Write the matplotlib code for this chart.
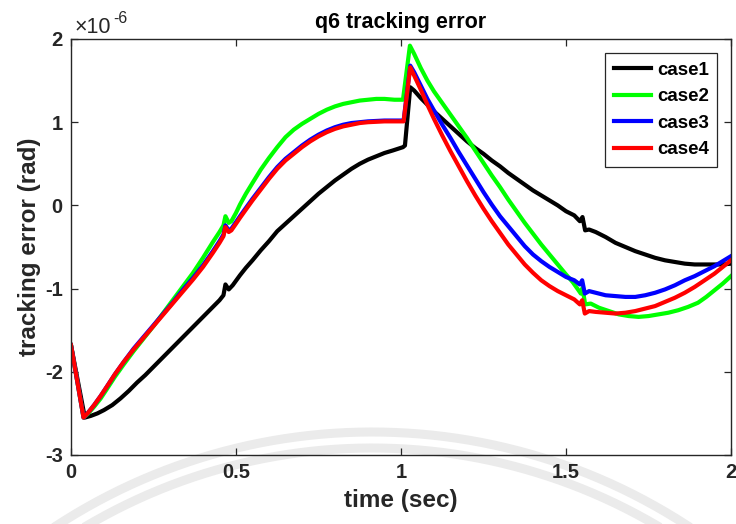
import numpy as np
import matplotlib
matplotlib.use("Agg")
import matplotlib.pyplot as plt
from matplotlib.lines import Line2D

# ---------------- data (values in units of 1e-6 rad) ----------------
t1 = [0, 0.042, 0.06, 0.08, 0.10, 0.125, 0.15, 0.175, 0.20, 0.225, 0.25, 0.275, 0.30, 0.325, 0.35,
      0.375, 0.40, 0.425, 0.45, 0.462, 0.468, 0.478, 0.49, 0.512, 0.53, 0.55, 0.575, 0.60, 0.625, 0.65,
      0.675, 0.70, 0.725, 0.75, 0.775, 0.80, 0.825, 0.85, 0.875, 0.90, 0.925, 0.95, 0.975, 1.006, 1.012,
      1.028, 1.04, 1.06, 1.08, 1.10, 1.125, 1.15, 1.175, 1.20, 1.225, 1.25, 1.275, 1.30, 1.325, 1.35,
      1.375, 1.40, 1.425, 1.45, 1.475, 1.50, 1.525, 1.542, 1.55, 1.558, 1.57, 1.59, 1.62, 1.65, 1.68,
      1.71, 1.74, 1.77, 1.80, 1.83, 1.86, 1.89, 1.92, 1.95, 1.975, 2.0]
case1 = [-1.68, -2.55, -2.53, -2.50, -2.46, -2.40, -2.32, -2.23, -2.13, -2.04, -1.94, -1.84, -1.74, -1.64, -1.54,
         -1.44, -1.34, -1.24, -1.14, -1.08, -0.95, -1.01, -0.96, -0.84, -0.75, -0.66, -0.54, -0.43, -0.31, -0.22,
         -0.13, -0.04, 0.05, 0.14, 0.22, 0.30, 0.37, 0.44, 0.50, 0.55, 0.59, 0.63, 0.66, 0.70, 0.72,
         1.42, 1.38, 1.29, 1.21, 1.13, 1.04, 0.95, 0.86, 0.77, 0.69, 0.62, 0.54, 0.47, 0.39, 0.32,
         0.25, 0.18, 0.12, 0.06, 0.00, -0.07, -0.12, -0.19, -0.14, -0.30, -0.29, -0.32, -0.38, -0.45, -0.50,
         -0.55, -0.59, -0.63, -0.66, -0.68, -0.70, -0.71, -0.71, -0.71, -0.71, -0.70]

t2 = [0, 0.038, 0.05, 0.07, 0.09, 0.11, 0.133, 0.16, 0.19, 0.22, 0.25, 0.28, 0.31, 0.34, 0.37,
      0.40, 0.43, 0.45, 0.462, 0.468, 0.478, 0.486, 0.50, 0.512, 0.53, 0.55, 0.575, 0.60, 0.625, 0.65,
      0.675, 0.70, 0.725, 0.75, 0.775, 0.80, 0.825, 0.85, 0.875, 0.90, 0.925, 0.95, 0.98, 1.006, 1.027,
      1.04, 1.06, 1.08, 1.10, 1.125, 1.15, 1.175, 1.20, 1.225, 1.25, 1.275, 1.30, 1.325, 1.35, 1.375,
      1.40, 1.425, 1.45, 1.475, 1.50, 1.52, 1.538, 1.545, 1.550, 1.558, 1.575, 1.60, 1.63, 1.66, 1.69,
      1.72, 1.75, 1.78, 1.81, 1.84, 1.87, 1.90, 1.925, 1.95, 1.975, 2.0]
case2 = [-1.68, -2.55, -2.51, -2.42, -2.32, -2.20, -2.06, -1.91, -1.75, -1.60, -1.45, -1.29, -1.13, -0.97, -0.81,
         -0.63, -0.44, -0.32, -0.24, -0.13, -0.21, -0.19, -0.09, 0.01, 0.14, 0.27, 0.43, 0.57, 0.70, 0.82,
         0.91, 0.98, 1.04, 1.10, 1.15, 1.19, 1.22, 1.24, 1.26, 1.27, 1.28, 1.28, 1.27, 1.27, 1.92,
         1.82, 1.65, 1.50, 1.37, 1.23, 1.09, 0.95, 0.81, 0.66, 0.51, 0.36, 0.22, 0.07, -0.07, -0.21,
         -0.34, -0.47, -0.59, -0.71, -0.83, -0.92, -1.02, -1.06, -0.99, -1.19, -1.18, -1.23, -1.27, -1.31, -1.33,
         -1.34, -1.33, -1.31, -1.29, -1.26, -1.22, -1.17, -1.10, -1.02, -0.94, -0.85]

t34 = [0, 0.038, 0.05, 0.07, 0.09, 0.11, 0.133, 0.16, 0.19, 0.22, 0.25, 0.28, 0.31, 0.34, 0.37,
       0.40, 0.43, 0.45, 0.462, 0.468, 0.478, 0.486, 0.50, 0.512, 0.53, 0.55, 0.575, 0.60, 0.625, 0.65,
       0.675, 0.70, 0.725, 0.75, 0.775, 0.80, 0.825, 0.85, 0.875, 0.90, 0.95, 1.008, 1.028,
       1.04, 1.06, 1.08, 1.10, 1.125, 1.15, 1.175, 1.20, 1.225, 1.25, 1.275, 1.30, 1.325, 1.35, 1.375,
       1.40, 1.425, 1.45, 1.475, 1.50, 1.525, 1.542, 1.549, 1.557, 1.57, 1.59, 1.62, 1.65, 1.68, 1.71,
       1.74, 1.77, 1.80, 1.83, 1.86, 1.89, 1.92, 1.95, 1.975, 2.0]
case3 = [-1.68, -2.55, -2.50, -2.40, -2.29, -2.17, -2.03, -1.88, -1.72, -1.58, -1.44, -1.30, -1.16, -1.01, -0.87,
         -0.72, -0.55, -0.43, -0.35, -0.24, -0.30, -0.28, -0.20, -0.13, -0.03, 0.08, 0.21, 0.34, 0.46, 0.56,
         0.64, 0.72, 0.79, 0.85, 0.90, 0.94, 0.97, 0.99, 1.00, 1.01, 1.02, 1.02, 1.68,
         1.60, 1.44, 1.28, 1.14, 0.97, 0.81, 0.64, 0.48, 0.32, 0.16, 0.01, -0.13, -0.25, -0.37, -0.49,
         -0.59, -0.67, -0.74, -0.80, -0.86, -0.90, -0.95, -0.90, -1.06, -1.03, -1.05, -1.08, -1.09, -1.10, -1.10,
         -1.08, -1.05, -1.01, -0.96, -0.90, -0.85, -0.79, -0.73, -0.67, -0.61]
case4 = [-1.68, -2.55, -2.50, -2.40, -2.29, -2.17, -2.03, -1.88, -1.73, -1.59, -1.45, -1.31, -1.17, -1.03, -0.89,
         -0.74, -0.57, -0.45, -0.37, -0.26, -0.32, -0.30, -0.22, -0.15, -0.05, 0.06, 0.19, 0.32, 0.44, 0.54,
         0.62, 0.70, 0.77, 0.83, 0.88, 0.92, 0.95, 0.97, 0.99, 1.00, 1.01, 1.01, 1.66,
         1.56, 1.39, 1.21, 1.04, 0.84, 0.65, 0.47, 0.29, 0.12, -0.04, -0.19, -0.33, -0.47, -0.59, -0.71,
         -0.81, -0.90, -0.97, -1.03, -1.08, -1.13, -1.19, -1.14, -1.30, -1.27, -1.28, -1.29, -1.30, -1.29, -1.27,
         -1.24, -1.21, -1.16, -1.11, -1.05, -0.98, -0.90, -0.82, -0.74, -0.66]

labels = ["case1", "case2", "case3", "case4"]
colors = ["#000000", "#00ff00", "#0000ff", "#ff0000"]
xticks = [0, 0.5, 1, 1.5, 2]
xticklabels = ["0", "0.5", "1", "1.5", "2"]
yticks = [-3, -2, -1, 0, 1, 2]
yticklabels = ["-3", "-2", "-1", "0", "1", "2"]

# ---------------- figure ----------------
W, H = 736, 524
fig = plt.figure(figsize=(W / 100, H / 100), dpi=100)
fig.patch.set_facecolor("white")

# faint background watermark arcs (decorative)
wm_cx, wm_cy = 372, 1010
for R in (578, 562):
    th = np.linspace(np.pi * 0.5 - 0.64, np.pi * 0.5 + 0.64, 300)
    xs = (wm_cx + R * np.cos(th)) / W
    ys = 1 - (wm_cy - R * np.sin(th)) / H
    fig.add_artist(Line2D(xs, ys, transform=fig.transFigure, color="#ebebeb", lw=6.5, zorder=0))

ax = fig.add_axes([71 / W, 69 / H, 660 / W, 416 / H])
ax.patch.set_alpha(0)

FONT = "Liberation Sans"
dark = "#262626"

series = [(t1, case1), (t2, case2), (t34, case3), (t34, case4)]
for (tt, yy), lab, col in zip(series, labels, colors):
    ax.plot(tt, yy, color=col, lw=3.0, label=lab, solid_joinstyle="round")

ax.set_xlim(0, 2)
ax.set_ylim(-3, 2)
ax.set_xticks(xticks)
ax.set_xticklabels(xticklabels)
ax.set_yticks(yticks)
ax.set_yticklabels(yticklabels)
ax.tick_params(direction="in", length=5, width=0.9, colors=dark, top=True, right=True,
               labelsize=14.5, pad=6)
for lab in ax.get_xticklabels() + ax.get_yticklabels():
    lab.set_fontfamily(FONT)
    lab.set_fontweight("bold")
for sp in ax.spines.values():
    sp.set_color(dark)
    sp.set_linewidth(1.0)

ax.set_xlabel("time (sec)", fontsize=17.5, fontweight="bold", family=FONT, color=dark, labelpad=5)
ax.set_ylabel("tracking error (rad)", fontsize=17.5, fontweight="bold", family=FONT, color=dark, labelpad=3)
ax.set_title("q6 tracking error", fontsize=15.5, fontweight="bold", family=FONT, color="black", pad=8)

# exponent label
ax.text(0.006, 1.0144, "\u00d710", transform=ax.transAxes, fontsize=15.5, family=FONT,
        color=dark, ha="left", va="baseline")
ax.text(0.064, 1.039, "-6", transform=ax.transAxes, fontsize=11.5, family=FONT,
        color=dark, ha="left", va="baseline")

leg = ax.legend(loc="upper right", bbox_to_anchor=(0.979, 0.966), borderaxespad=0,
                prop={"family": FONT, "weight": "bold", "size": 13.5},
                handlelength=2.0, handletextpad=0.3, labelspacing=0.5, borderpad=0.45,
                fancybox=False, framealpha=1)
leg.get_frame().set_edgecolor(dark)
leg.get_frame().set_linewidth(0.9)
for line in leg.get_lines():
    line.set_linewidth(3.0)

fig.savefig("out.png", dpi=100)
